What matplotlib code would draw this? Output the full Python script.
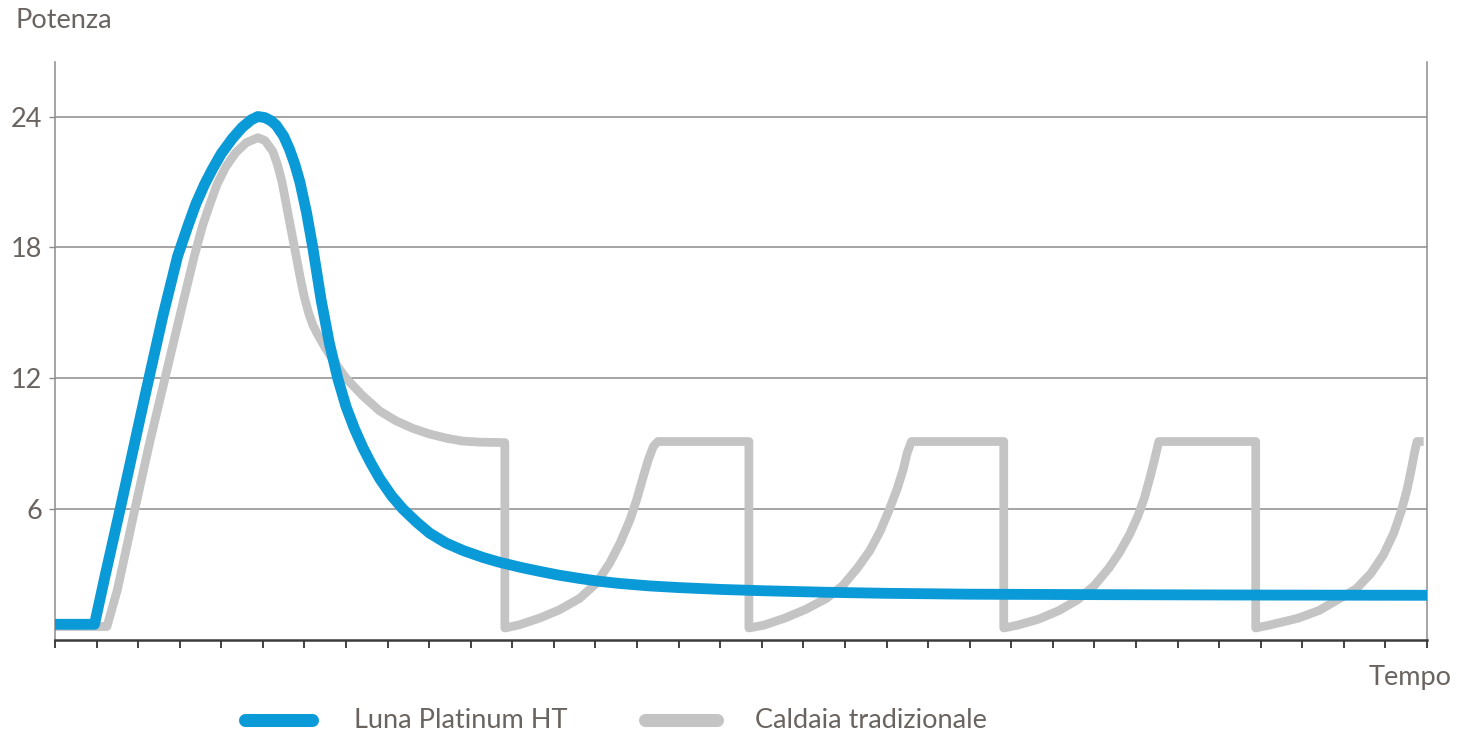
import matplotlib
matplotlib.use('Agg')
import matplotlib.pyplot as plt
from matplotlib.lines import Line2D

# ---- data ----
blue_x = [0.0, 0.95, 1.2, 1.59, 1.9, 2.2, 2.6, 2.95, 3.2, 3.39, 3.6, 3.79, 4.0, 4.27,
          4.5, 4.72, 4.88, 5.05, 5.2, 5.32, 5.5, 5.64, 5.77, 5.89, 6.05, 6.2, 6.4, 6.6,
          6.8, 7.0, 7.2, 7.41, 7.6, 7.81, 8.1, 8.37, 8.7, 9.01, 9.4, 9.82, 10.3, 10.68,
          11.2, 11.65, 12.1, 12.62, 13.1, 13.59, 14.3, 15.04, 16.0, 17.0, 18.5, 20.0,
          22.0, 25.0, 29.0, 33.0]
blue_y = [0.72, 0.72, 2.9, 6.2, 8.9, 11.5, 14.9, 17.6, 19.0, 20.0, 20.9, 21.6, 22.3, 23.0,
          23.5, 23.85, 24.0, 23.95, 23.8, 23.6, 23.1, 22.5, 21.8, 21.0, 19.6, 18.0, 15.6, 13.6,
          12.0, 10.7, 9.7, 8.8, 8.1, 7.4, 6.6, 6.0, 5.4, 4.9, 4.45, 4.1, 3.78, 3.57,
          3.33, 3.15, 2.98, 2.82, 2.69, 2.59, 2.48, 2.4, 2.32, 2.26, 2.19, 2.14,
          2.1, 2.08, 2.06, 2.05]

gray_x = [0.0, 1.25, 1.5, 1.91, 2.27, 2.67, 3.07, 3.35, 3.55, 3.71, 3.9, 4.11, 4.35, 4.6,
          4.88, 5.05, 5.24, 5.35, 5.46, 5.6, 5.76, 5.9, 6.0, 6.1, 6.2, 6.32, 6.5, 6.7,
          7.0, 7.4, 7.81, 8.2, 8.61, 9.0, 9.42, 9.8, 10.22, 10.82,
          10.82, 11.16, 11.65, 12.13, 12.62, 13.02, 13.34, 13.59, 13.83, 13.99, 14.15,
          14.27, 14.39, 14.5, 16.69,
          16.69, 17.05, 17.55, 18.05, 18.55, 18.95, 19.3, 19.6, 19.85, 20.05, 20.25,
          20.4, 20.5, 20.6, 22.82,
          22.82, 23.15, 23.65, 24.15, 24.6, 25.0, 25.35, 25.6, 25.85, 26.05, 26.2,
          26.33, 26.45, 26.55, 28.88,
          28.88, 29.25, 29.9, 30.4, 30.9, 31.3, 31.65, 31.95, 32.2, 32.38, 32.52,
          32.62, 32.7, 32.76, 32.92]
gray_y = [0.62, 0.62, 2.3, 5.9, 9.0, 12.2, 15.4, 17.6, 19.0, 19.9, 20.9, 21.7, 22.35, 22.8,
          23.03, 22.9, 22.4, 21.8, 21.0, 19.6, 18.0, 16.6, 15.7, 15.0, 14.45, 14.0, 13.4, 12.8,
          12.0, 11.2, 10.5, 10.05, 9.7, 9.45, 9.25, 9.12, 9.07, 9.05,
          0.55, 0.69, 1.0, 1.38, 1.91, 2.6, 3.52, 4.44, 5.51, 6.43, 7.5,
          8.26, 8.87, 9.1, 9.1,
          0.55, 0.68, 1.0, 1.4, 1.9, 2.5, 3.3, 4.1, 5.0, 5.9, 6.9,
          7.8, 8.6, 9.1, 9.1,
          0.55, 0.68, 0.95, 1.35, 1.85, 2.5, 3.3, 4.0, 4.85, 5.7, 6.5,
          7.4, 8.3, 9.1, 9.1,
          0.55, 0.7, 1.0, 1.35, 1.9, 2.35, 3.05, 3.9, 4.9, 5.9, 6.9,
          7.8, 8.6, 9.1, 9.1]

y_ticks = [6, 12, 18, 24]
y_tick_labels = ['6', '12', '18', '24']
x_ticks = list(range(0, 34))
series_names = ['Luna Platinum HT', 'Caldaia tradizionale']
y_axis_label = 'Potenza'
x_axis_label = 'Tempo'

BLUE = '#0b9ad8'
GRAY = '#c4c4c4'
TXT = '#6a6460'
FS = 19.5

plt.rcParams['font.family'] = ['Lato', 'DejaVu Sans']

W, H = 1457, 735
fig = plt.figure(figsize=(W / 100, H / 100), dpi=100)
ax = fig.add_axes([55 / W, 95 / H, 1372 / W, 578 / H])

ax.plot(gray_x, gray_y, color=GRAY, lw=6.3, solid_joinstyle='round',
        solid_capstyle='butt', zorder=2)
ax.plot(blue_x, blue_y, color=BLUE, lw=7.8, solid_joinstyle='round',
        solid_capstyle='butt', zorder=3)

ax.set_xlim(0, 33)
ax.set_ylim(0, 26.5)
ax.set_yticks(y_ticks)
ax.set_yticklabels(y_tick_labels)
ax.set_xticks(x_ticks)
ax.set_xticklabels([])

ax.yaxis.grid(True, color='#8c8c8c', lw=1.1, zorder=1)
ax.set_axisbelow(True)

ax.tick_params(axis='x', direction='out', length=5.5, width=1.3, color='#333333')
ax.tick_params(axis='y', direction='out', length=4, width=1.0, color='#8c8c8c',
               labelsize=FS, labelcolor=TXT, pad=5)

ax.spines['top'].set_visible(False)
ax.spines['bottom'].set_color('#3a3a3a')
ax.spines['bottom'].set_linewidth(1.8)
for s in ('left', 'right'):
    ax.spines[s].set_color('#8c8c8c')
    ax.spines[s].set_linewidth(1.1)

fig.text(15 / W, 1 - 20 / H, y_axis_label, fontsize=FS, color=TXT,
         ha='left', va='center')
fig.text(1452 / W, 1 - 678 / H, x_axis_label, fontsize=FS, color=TXT,
         ha='right', va='center')

# legend
ly = 1 - 720 / H
for (x0, x1, tx), col, name in zip([(245, 312, 354), (645, 717, 755)],
                                   [BLUE, GRAY], series_names):
    fig.add_artist(Line2D([x0 / W, x1 / W], [ly, ly], transform=fig.transFigure,
                          color=col, lw=9.4, solid_capstyle='round'))
    fig.text(tx / W, ly, name, fontsize=FS, color=TXT,
             ha='left', va='center')

fig.savefig('out.png', dpi=100)
